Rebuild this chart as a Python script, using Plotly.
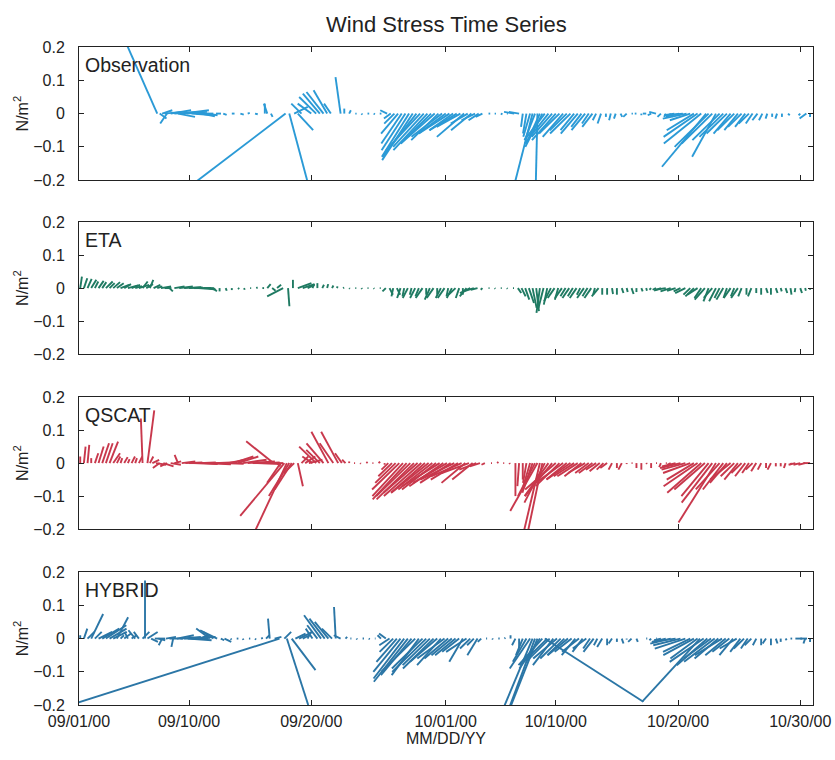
import datetime as dt
import plotly.graph_objects as go

# ---------------- data (t = days since 2000-09-01, u/v = wind stress N/m^2) -------------
obs_t = [6.4, 6.6, 6.8, 7.0, 7.2, 7.5, 7.8, 8.1, 8.4, 8.8,
         9.2, 9.6, 10.0, 10.5, 11.2, 11.8, 12.5, 13.2, 13.8, 14.4,
         15.2, 15.4, 15.7, 16.9, 17.2, 17.6, 17.9, 18.2, 19.0, 19.4,
         19.7, 20.0, 20.3, 20.6, 21.4, 21.7, 22.1, 22.6, 23.1, 23.6,
         24.1, 24.6, 25.2, 25.5, 25.8, 26.1, 26.4, 26.7, 27.0, 27.3,
         27.6, 27.9, 28.2, 28.5, 28.8, 29.1, 29.4, 29.7, 30.0, 30.3,
         30.6, 30.9, 31.2, 31.5, 31.8, 32.1, 32.4, 32.7, 33.0, 33.5,
         34.0, 34.5, 35.0, 35.6, 36.0, 36.3, 36.6, 36.9, 37.1, 37.3,
         37.5, 37.7, 37.9, 38.1, 38.4, 38.7, 39.0, 39.3, 39.6, 39.9,
         40.2, 40.5, 40.8, 41.1, 41.4, 41.7, 42.0, 42.3, 42.7, 43.1,
         43.5, 43.9, 44.3, 44.8, 45.2, 45.6, 46.0, 46.4, 46.8, 47.2,
         47.6, 48.0, 48.3, 48.7, 49.1, 49.4, 49.7, 50.0, 50.3, 50.6,
         50.9, 51.3, 51.5, 51.8, 52.1, 52.4, 52.7, 53.0, 53.3, 53.6,
         53.9, 54.2, 54.5, 54.8, 55.1, 55.5, 55.9, 56.3, 56.7, 57.1,
         57.5, 58.0, 58.5, 59.0, 59.5, 59.8]
obs_u = [-0.095, 0.02, 0.03, 0.05, -0.02, 0.06, 0.07, 0.05, 0.08, 0.06,
         0.07, 0.05, 0.04, 0.03, 0.015, 0.01, 0.008, 0.01, 0.006, 0.008,
         0.0, -0.01, 0.005, -0.27, 0.055, 0.04, 0.045, -0.03, -0.04, -0.05,
         -0.05, -0.05, -0.04, -0.02, -0.015, 0.0, 0.005, 0.004, 0.003, 0.005,
         0.004, 0.005, -0.02, -0.02, -0.03, -0.05, -0.06, -0.07, -0.08, -0.09,
         -0.10, -0.10, -0.09, -0.10, -0.09, -0.10, -0.08, -0.09, -0.08, -0.09,
         -0.07, -0.08, -0.07, -0.08, -0.05, -0.06, -0.04, -0.03, -0.02, 0.005,
         0.004, 0.005, 0.003, -0.03, -0.03, -0.005, -0.01, -0.02, -0.055, -0.03,
         -0.005, -0.04, -0.05, -0.06, -0.07, -0.06, -0.07, -0.06, -0.06, -0.05,
         -0.06, -0.04, -0.05, -0.03, -0.04, -0.02, -0.03, -0.01, -0.01, 0.0,
         -0.005, -0.005, 0.005, -0.01, 0.004, -0.005, 0.0, -0.01, -0.01, -0.02,
         -0.01, -0.005, 0.01, -0.03, -0.04, -0.05, -0.07, -0.06, -0.08, -0.10,
         -0.11, -0.13, -0.10, -0.09, -0.07, -0.08, -0.07, -0.06, -0.05, -0.05,
         -0.04, -0.04, -0.03, -0.03, -0.02, -0.015, -0.01, -0.005, 0.0, -0.005,
         0.0, 0.005, 0.0, -0.005, -0.02, 0.0]
obs_v = [0.22, -0.015, 0.01, 0.005, -0.03, 0.01, 0.005, -0.01, 0.01, 0.005,
         -0.005, 0.0, -0.008, -0.005, 0.0, -0.004, 0.0, -0.003, 0.002, -0.002,
         0.03, 0.03, -0.01, -0.21, -0.21, 0.02, -0.05, 0.03, 0.03, 0.05,
         0.06, 0.065, 0.07, 0.03, 0.11, 0.015, 0.01, 0.0, -0.003, 0.0,
         -0.002, 0.0, 0.01, -0.015, -0.03, -0.06, -0.09, -0.11, -0.13, -0.14,
         -0.13, -0.11, -0.10, -0.11, -0.09, -0.09, -0.08, -0.07, -0.06, -0.06,
         -0.05, -0.05, -0.04, -0.07, -0.03, -0.05, -0.02, -0.02, -0.01, 0.0,
         0.0, -0.002, 0.0, 0.005, 0.005, -0.04, -0.06, -0.07, -0.22, -0.08,
         -0.22, -0.09, -0.10, -0.08, -0.09, -0.07, -0.08, -0.06, -0.07, -0.05,
         -0.06, -0.05, -0.06, -0.04, -0.05, -0.03, -0.04, -0.02, -0.03, -0.01,
         -0.02, -0.015, -0.01, -0.01, 0.0, 0.0, -0.005, 0.0, -0.005, 0.005,
         -0.01, -0.01, -0.01, -0.005, -0.01, -0.005, -0.015, -0.02, -0.05, -0.07,
         -0.09, -0.16, -0.10, -0.09, -0.13, -0.08, -0.07, -0.06, -0.06, -0.05,
         -0.05, -0.04, -0.04, -0.03, -0.03, -0.02, -0.02, -0.015, -0.01, -0.015,
         -0.01, -0.005, 0.0, -0.005, -0.015, -0.01]

eta_t = [0.1, 0.4, 0.7, 1.0, 1.3, 1.6, 1.9, 2.2, 2.5, 2.8,
         3.1, 3.4, 3.7, 4.0, 4.3, 4.6, 4.9, 5.2, 5.5, 5.8,
         6.1, 6.4, 6.7, 7.0, 7.4, 7.8, 8.2, 8.6, 9.0, 9.4,
         9.8, 10.2, 10.6, 11.0, 11.5, 12.0, 12.5, 13.0, 13.5, 14.0,
         14.5, 15.0, 15.4, 15.8, 16.2, 16.7, 17.1, 17.5, 17.9, 18.3,
         18.7, 19.1, 19.5, 19.9, 20.3, 20.7, 21.1, 21.6, 22.1, 22.6,
         23.1, 23.6, 24.1, 24.6, 25.1, 25.4, 25.7, 26.0, 26.3, 26.6,
         26.9, 27.2, 27.5, 27.8, 28.1, 28.4, 28.7, 29.0, 29.3, 29.6,
         29.9, 30.2, 30.5, 30.8, 31.1, 31.4, 31.7, 32.0, 32.3, 32.6,
         33.0, 33.5, 34.0, 34.5, 35.0, 35.5, 35.9, 36.2, 36.5, 36.8,
         37.1, 37.4, 37.7, 38.0, 38.3, 38.6, 38.9, 39.2, 39.5, 39.8,
         40.1, 40.4, 40.7, 41.0, 41.3, 41.6, 41.9, 42.2, 42.5, 42.8,
         43.2, 43.6, 44.0, 44.4, 44.8, 45.2, 45.6, 46.0, 46.4, 46.8,
         47.2, 47.6, 48.0, 48.4, 48.8, 49.2, 49.6, 50.0, 50.3, 50.6,
         50.9, 51.2, 51.5, 51.8, 52.1, 52.4, 52.7, 53.0, 53.3, 53.6,
         53.9, 54.2, 54.6, 55.0, 55.4, 55.8, 56.2, 56.6, 57.0, 57.4,
         57.8, 58.2, 58.6, 59.0, 59.4, 59.8]
eta_u = [0.005, 0.01, 0.012, 0.015, 0.01, 0.015, 0.012, 0.02, 0.015, 0.02,
         0.02, 0.025, 0.02, 0.03, 0.025, 0.02, 0.03, 0.015, 0.02, 0.01,
         0.02, 0.015, 0.03, 0.02, 0.01, 0.03, 0.04, 0.05, 0.04, 0.05,
         0.04, 0.03, 0.02, 0.01, 0.0, 0.003, 0.0, 0.004, 0.002, 0.003,
         0.004, 0.005, 0.01, 0.01, 0.012, -0.047, 0.004, 0.0, 0.04, 0.035,
         0.02, 0.005, 0.0, 0.005, 0.003, 0.004, 0.002, 0.003, 0.002, 0.003,
         0.002, 0.003, 0.002, 0.003, -0.01, 0.01, -0.005, 0.01, -0.01, -0.005,
         -0.015, -0.005, -0.015, -0.01, -0.02, 0.0, -0.015, -0.02, 0.0, -0.015,
         -0.02, -0.005, -0.015, -0.02, -0.01, 0.0, -0.02, -0.03, -0.03, -0.02,
         -0.005, 0.003, 0.002, 0.003, 0.002, 0.003, 0.01, 0.012, 0.012, 0.015,
         0.012, 0.008, -0.01, -0.015, -0.01, -0.02, -0.02, -0.01, -0.02, -0.015,
         -0.02, -0.015, -0.02, -0.01, -0.02, -0.015, -0.02, -0.005, -0.02, 0.0,
         0.0, 0.003, 0.0, 0.005, 0.003, 0.006, 0.0, 0.004, 0.002, -0.005,
         -0.01, -0.02, -0.03, -0.03, -0.025, -0.02, -0.03, -0.02, -0.025, -0.03,
         -0.02, -0.03, -0.015, -0.025, -0.02, -0.015, -0.02, -0.01, -0.02, -0.01,
         -0.02, -0.01, 0.0, -0.01, 0.0, 0.0, 0.005, 0.0, 0.005, 0.003,
         0.005, 0.003, -0.002, 0.005, 0.002, 0.0]
eta_v = [0.035, 0.03, 0.028, 0.025, 0.02, 0.022, 0.018, 0.02, 0.015, 0.018,
         0.015, 0.01, 0.012, 0.008, 0.01, 0.006, 0.01, 0.02, 0.012, 0.025,
         0.01, 0.005, 0.005, 0.0, -0.01, 0.005, 0.005, 0.003, 0.002, 0.0,
         -0.003, 0.0, -0.005, -0.01, -0.01, -0.008, -0.006, -0.003, -0.005, 0.0,
         0.002, 0.0, 0.012, -0.008, 0.01, -0.025, -0.055, 0.025, 0.015, 0.012,
         0.01, 0.012, 0.015, 0.01, 0.012, 0.008, 0.005, 0.002, -0.002, 0.0,
         -0.003, 0.0, -0.002, 0.0, -0.01, -0.02, -0.025, -0.02, -0.03, -0.025,
         -0.03, -0.02, -0.03, -0.025, -0.03, -0.02, -0.035, -0.03, -0.02, -0.03,
         -0.03, -0.025, -0.03, -0.02, -0.03, -0.02, -0.025, -0.015, -0.01, -0.005,
         -0.005, 0.0, -0.002, 0.0, -0.002, 0.0, -0.015, -0.025, -0.035, -0.045,
         -0.06, -0.07, -0.075, -0.06, -0.05, -0.04, -0.03, -0.035, -0.03, -0.025,
         -0.03, -0.025, -0.03, -0.02, -0.03, -0.025, -0.03, -0.02, -0.025, -0.02,
         -0.02, -0.018, -0.02, -0.015, -0.012, -0.018, -0.012, -0.01, -0.008, -0.005,
         -0.005, -0.008, -0.005, -0.01, -0.008, -0.01, -0.015, -0.02, -0.025, -0.02,
         -0.03, -0.035, -0.04, -0.03, -0.04, -0.03, -0.035, -0.03, -0.03, -0.025,
         -0.03, -0.025, -0.02, -0.025, -0.015, -0.02, -0.015, -0.02, -0.015, -0.01,
         -0.015, -0.02, -0.012, -0.015, -0.008, -0.005]

qsc_t = [0.1, 0.4, 0.7, 1.0, 1.3, 1.6, 1.9, 2.2, 2.5, 2.8,
         3.1, 3.4, 3.7, 4.0, 4.3, 4.6, 4.9, 5.2, 5.6, 5.8,
         6.0, 6.3, 6.6, 6.9, 7.2, 7.5, 7.8, 8.1, 8.4, 8.7,
         9.0, 9.4, 9.8, 10.2, 10.6, 11.0, 11.4, 11.8, 12.2, 12.6,
         13.0, 13.4, 13.8, 14.2, 14.6, 15.0, 15.3, 15.6, 15.9, 16.2,
         16.5, 16.8, 17.0, 17.2, 17.4, 17.6, 17.9, 18.2, 18.5, 18.8,
         19.1, 19.4, 19.7, 20.0, 20.4, 20.8, 21.2, 21.5, 21.8, 22.1,
         22.5, 23.0, 23.5, 24.0, 24.5, 25.0, 25.3, 25.6, 25.9, 26.2,
         26.5, 26.8, 27.1, 27.4, 27.7, 28.0, 28.3, 28.6, 28.9, 29.2,
         29.5, 29.8, 30.1, 30.4, 30.7, 31.0, 31.3, 31.6, 31.9, 32.2,
         32.5, 32.8, 33.2, 33.7, 34.2, 34.7, 35.2, 35.7, 36.0, 36.3,
         36.6, 36.9, 37.1, 37.3, 37.5, 37.7, 37.9, 38.1, 38.4, 38.7,
         39.0, 39.3, 39.6, 39.9, 40.2, 40.5, 40.8, 41.1, 41.4, 41.7,
         42.0, 42.3, 42.6, 42.9, 43.2, 43.6, 44.0, 44.4, 44.8, 45.2,
         45.6, 46.0, 46.4, 46.8, 47.2, 47.6, 48.0, 48.4, 48.8, 49.2,
         49.6, 50.0, 50.3, 50.6, 50.9, 51.2, 51.5, 51.8, 52.1, 52.4,
         52.7, 53.0, 53.3, 53.6, 53.9, 54.2, 54.5, 54.8, 55.1, 55.4,
         55.8, 56.2, 56.6, 57.0, 57.4, 57.8, 58.2, 58.6, 59.0, 59.4,
         59.8]
qsc_u = [0.0, 0.005, 0.005, 0.0, 0.01, 0.015, 0.02, 0.02, 0.025, 0.02,
         0.01, 0.005, 0.01, 0.005, 0.01, 0.005, 0.01, -0.005, 0.02, 0.01,
         0.02, 0.03, -0.02, 0.03, -0.02, 0.03, 0.02, -0.01, 0.04, 0.05,
         0.06, 0.07, 0.05, 0.08, 0.06, 0.07, 0.05, 0.06, 0.05, 0.06,
         0.06, 0.07, 0.08, 0.09, 0.07, 0.05, 0.04, 0.02, -0.08, 0.01,
         -0.04, -0.13, -0.10, -0.06, -0.05, -0.03, 0.015, 0.02, 0.03, 0.04,
         -0.03, -0.05, -0.04, -0.05, -0.05, -0.04, -0.05, -0.02, -0.01, 0.0,
         0.003, 0.002, 0.004, 0.003, 0.005, 0.0, -0.02, -0.04, -0.06, -0.08,
         -0.09, -0.10, -0.10, -0.11, -0.10, -0.11, -0.10, -0.11, -0.10, -0.10,
         -0.11, -0.10, -0.10, -0.09, -0.10, -0.08, -0.09, -0.07, -0.08, -0.06,
         -0.05, -0.03, -0.01, 0.003, 0.004, 0.003, 0.002, 0.0, -0.005, 0.0,
         -0.01, -0.02, -0.03, -0.05, -0.08, -0.05, -0.045, -0.06, -0.07, -0.08,
         -0.09, -0.07, -0.08, -0.06, -0.07, -0.06, -0.06, -0.05, -0.05, -0.04,
         -0.04, -0.03, -0.03, -0.02, -0.02, -0.01, 0.0, -0.01, 0.0, 0.003,
         0.0, 0.0, 0.002, 0.0, 0.003, -0.005, 0.003, -0.01, -0.04, -0.06,
         -0.07, -0.08, -0.08, -0.10, -0.10, -0.09, -0.08, -0.09, -0.11, -0.07,
         -0.06, -0.05, -0.06, -0.04, -0.04, -0.03, -0.03, -0.02, -0.02, -0.015,
         -0.01, 0.0, -0.01, 0.0, 0.0, -0.005, 0.003, -0.02, -0.02, -0.02,
         -0.02]
qsc_v = [0.02, 0.05, 0.055, 0.015, 0.03, 0.05, 0.06, 0.06, 0.065, 0.03,
         0.02, 0.015, 0.018, 0.012, 0.02, 0.015, 0.02, 0.135, 0.16, 0.02,
         0.01, -0.005, -0.015, -0.01, -0.01, -0.005, 0.005, 0.025, 0.005, 0.002,
         0.0, -0.003, 0.002, -0.004, 0.0, 0.003, 0.0, -0.002, 0.01, 0.02,
         0.02, 0.01, 0.005, 0.0, -0.003, 0.0, 0.002, 0.0, 0.066, -0.01,
         -0.06, -0.16, -0.22, -0.10, -0.08, -0.03, -0.07, 0.02, 0.02, 0.01,
         0.02, 0.05, 0.04, 0.06, 0.095, 0.06, 0.095, 0.03, 0.01, 0.005,
         0.0, -0.002, 0.003, 0.0, 0.004, -0.005, -0.02, -0.04, -0.06, -0.08,
         -0.10, -0.11, -0.10, -0.11, -0.09, -0.10, -0.09, -0.09, -0.08, -0.08,
         -0.07, -0.07, -0.06, -0.06, -0.05, -0.05, -0.04, -0.06, -0.03, -0.05,
         -0.02, -0.01, -0.005, 0.0, 0.003, 0.0, -0.003, -0.1, -0.07, -0.05,
         -0.06, -0.07, -0.09, -0.1, -0.145, -0.22, -0.22, -0.12, -0.1, -0.1,
         -0.08, -0.07, -0.06, -0.05, -0.05, -0.04, -0.04, -0.04, -0.03, -0.03,
         -0.03, -0.02, -0.025, -0.02, -0.015, -0.02, -0.015, -0.02, -0.003, 0.0,
         -0.015, -0.02, -0.003, -0.015, 0.0, -0.012, 0.0, -0.005, -0.01, -0.015,
         -0.02, -0.03, -0.05, -0.07, -0.09, -0.08, -0.10, -0.12, -0.18, -0.08,
         -0.08, -0.06, -0.05, -0.04, -0.05, -0.03, -0.04, -0.03, -0.02, -0.025,
         -0.02, -0.015, -0.02, -0.01, -0.01, -0.015, -0.005, -0.005, -0.005, -0.005,
         0.0]

hyb_t = [0.1, 0.4, 0.7, 1.0, 1.3, 1.6, 1.9, 2.2, 2.5, 2.8,
         3.1, 3.4, 3.7, 4.0, 4.3, 4.6, 4.9, 5.2, 5.4, 5.6,
         5.9, 6.2, 6.5, 6.8, 7.1, 7.4, 7.7, 8.0, 8.3, 8.6,
         8.9, 9.2, 9.5, 9.8, 10.1, 10.4, 10.7, 11.0, 11.3, 11.6,
         11.9, 12.4, 12.9, 13.4, 13.9, 14.4, 14.9, 15.3, 15.6, 16.0,
         16.4, 16.8, 17.0, 17.4, 17.7, 18.0, 18.3, 18.7, 19.1, 19.5,
         19.8, 20.1, 20.4, 20.7, 21.0, 21.4, 21.8, 22.2, 22.7, 23.2,
         23.7, 24.2, 24.7, 25.1, 25.4, 25.7, 26.0, 26.3, 26.6, 26.9,
         27.2, 27.5, 27.8, 28.1, 28.4, 28.7, 29.0, 29.3, 29.6, 29.9,
         30.2, 30.5, 30.8, 31.1, 31.4, 31.7, 32.0, 32.3, 32.6, 32.9,
         33.3, 33.8, 34.3, 34.8, 35.3, 35.7, 36.0, 36.3, 36.6, 36.9,
         37.1, 37.3, 37.5, 37.7, 37.9, 38.1, 38.3, 38.5, 38.8, 39.1,
         39.4, 39.7, 40.0, 40.3, 40.6, 40.9, 41.2, 41.5, 41.8, 42.1,
         42.4, 42.8, 43.2, 43.6, 44.0, 44.4, 44.8, 45.2, 45.6, 46.0,
         46.4, 46.8, 47.2, 47.6, 48.0, 48.4, 48.8, 49.2, 49.6, 50.0,
         50.3, 50.6, 50.8, 51.1, 51.4, 51.7, 52.0, 52.3, 52.6, 52.9,
         53.2, 53.5, 53.8, 54.1, 54.4, 54.7, 55.0, 55.4, 55.8, 56.2,
         56.6, 57.0, 57.4, 57.8, 58.2, 58.6, 59.0, 59.4, 59.8]
hyb_u = [0.0, 0.01, 0.02, 0.035, 0.02, 0.04, 0.05, 0.06, 0.05, 0.04,
         0.033, 0.01, 0.02, -0.01, 0.015, -0.02, -0.015, 0.02, 0.0, 0.03,
         0.02, 0.03, 0.02, -0.01, 0.03, 0.04, -0.005, 0.05, 0.06, 0.06,
         0.07, 0.05, 0.06, 0.03, 0.02, 0.0, -0.04, -0.03, -0.05, 0.01,
         0.02, 0.003, 0.005, 0.002, 0.004, 0.003, 0.005, 0.01, -0.005, 0.02,
         -0.6, 0.02, 0.063, 0.07, 0.03, 0.04, 0.02, 0.01, -0.02, -0.03,
         -0.05, -0.045, -0.04, -0.03, -0.005, -0.02, 0.005, 0.003, 0.002, 0.004,
         0.003, 0.002, -0.01, -0.02, -0.03, -0.04, -0.06, -0.08, -0.09, -0.10,
         -0.09, -0.10, -0.08, -0.09, -0.10, -0.08, -0.09, -0.08, -0.07, -0.08,
         -0.07, -0.06, -0.06, -0.05, -0.04, -0.06, -0.03, -0.02, -0.03, -0.01,
         0.003, 0.002, 0.004, 0.003, 0.0, -0.01, 0.0, -0.02, -0.04, -0.06,
         -0.09, -0.08, -0.085, -0.06, -0.07, 0.29, -0.08, -0.07, -0.06, -0.07,
         -0.06, -0.05, -0.06, -0.05, -0.04, -0.05, -0.03, -0.04, -0.02, -0.03,
         -0.01, -0.015, 0.0, -0.01, 0.0, 0.005, 0.0, -0.01, 0.004, 0.0,
         0.003, -0.005, 0.002, -0.02, -0.04, -0.06, -0.07, -0.08, -0.09, -0.08,
         -0.09, -0.08, -0.17, -0.10, -0.09, -0.08, -0.09, -0.07, -0.08, -0.06,
         -0.05, -0.04, -0.05, -0.03, -0.03, -0.02, -0.02, -0.01, 0.0, -0.01,
         0.0, 0.005, 0.0, 0.003, 0.005, 0.02, 0.02, -0.005, 0.0]
hyb_v = [0.01, 0.03, 0.02, 0.074, 0.02, 0.02, 0.03, 0.04, 0.03, 0.02,
         0.064, 0.01, 0.015, 0.02, 0.01, 0.025, 0.02, 0.02, 0.175, 0.02,
         -0.01, 0.0, -0.005, -0.02, 0.005, 0.0, -0.025, 0.01, 0.005, 0.0,
         -0.005, 0.0, 0.005, 0.01, 0.005, 0.0, 0.03, 0.02, 0.025, -0.005,
         -0.01, -0.003, 0.0, -0.004, 0.0, -0.003, 0.002, 0.01, 0.06, 0.005,
         -0.195, 0.02, -0.2, -0.095, 0.015, 0.02, 0.01, 0.02, 0.03, 0.04,
         0.07, 0.06, 0.05, 0.03, 0.095, 0.01, 0.005, 0.0, -0.003, 0.0,
         -0.002, 0.0, 0.01, 0.015, -0.02, -0.04, -0.07, -0.1, -0.12, -0.13,
         -0.11, -0.10, -0.11, -0.09, -0.10, -0.08, -0.09, -0.07, -0.08, -0.06,
         -0.06, -0.05, -0.05, -0.04, -0.07, -0.04, -0.03, -0.02, -0.05, -0.01,
         0.0, -0.003, 0.0, 0.002, 0.01, -0.02, -0.03, -0.05, -0.07, -0.09,
         -0.22, -0.22, -0.22, -0.09, -0.08, -0.19, -0.08, -0.07, -0.08, -0.06,
         -0.06, -0.05, -0.05, -0.04, -0.05, -0.04, -0.04, -0.03, -0.03, -0.04,
         -0.02, -0.025, -0.02, -0.015, -0.01, -0.015, -0.003, -0.01, -0.01, 0.0,
         0.0, -0.005, 0.0, -0.005, -0.01, -0.015, -0.01, -0.02, -0.03, -0.04,
         -0.05, -0.06, -0.19, -0.07, -0.08, -0.06, -0.07, -0.06, -0.05, -0.05,
         -0.04, -0.05, -0.03, -0.04, -0.03, -0.03, -0.02, -0.02, -0.02, -0.015,
         -0.02, -0.015, -0.01, -0.005, 0.0, 0.0, 0.0, -0.015, -0.01]

panel_names = ["Observation", "ETA", "QSCAT", "HYBRID"]
tick_dates = ["2000-09-01", "2000-09-10", "2000-09-20", "2000-10-01",
              "2000-10-10", "2000-10-20", "2000-10-30"]
y_ticks = [-0.2, -0.1, 0, 0.1, 0.2]

# ---------------- styling ----------------
START = dt.datetime(2000, 9, 1)
STICK_SCALE = 27.8  # days of x-displacement per N/m^2 of u (equal visual scaling)
colors = ["#2b9ad6", "#1f7a62", "#c8384c", "#2b76a6"]
FONT = "Liberation Sans, Arial, Helvetica, sans-serif"
domains = [[0.76842, 0.94737], [0.53421, 0.71184], [0.29868, 0.47632], [0.06184, 0.24079]]


def stick_xy(t, u, v):
    assert len(t) == len(u) == len(v)
    xs, ys = [], []
    for ti, ui, vi in zip(t, u, v):
        xs += [START + dt.timedelta(days=ti), START + dt.timedelta(days=ti + ui * STICK_SCALE), None]
        ys += [0.0, vi, None]
    return xs, ys


series = [(obs_t, obs_u, obs_v), (eta_t, eta_u, eta_v), (qsc_t, qsc_u, qsc_v), (hyb_t, hyb_u, hyb_v)]

fig = go.Figure()
layout = dict(
    width=835, height=760,
    margin=dict(l=79, r=22, t=0, b=0),
    paper_bgcolor="white", plot_bgcolor="white",
    showlegend=False,
    font=dict(family=FONT, size=16, color="#222"),
    annotations=[],
)

for i, (name, (t, u, v), col) in enumerate(zip(panel_names, series, colors)):
    k = "" if i == 0 else str(i + 1)
    xs, ys = stick_xy(t, u, v)
    fig.add_trace(go.Scatter(x=xs, y=ys, mode="lines", xaxis="x" + k, yaxis="y" + k,
                             line=dict(color=col, width=1.9), connectgaps=False,
                             hoverinfo="skip", name=name))
    layout["xaxis" + k] = dict(
        domain=[0, 1], anchor="y" + k,
        type="date", range=["2000-09-01", "2000-10-31 01:00"],
        tickvals=tick_dates, tickformat="%m/%d/%y",
        ticks="inside", ticklen=5, tickcolor="#222",
        showline=True, linecolor="#222", linewidth=1, mirror="ticks",
        showgrid=False, zeroline=False,
        showticklabels=(i == 3), ticklabelstandoff=2,
        tickfont=dict(size=16),
    )
    layout["yaxis" + k] = dict(
        domain=domains[i], anchor="x" + k,
        range=[-0.2, 0.2], tickvals=y_ticks,
        ticktext=["\u22120.2", "\u22120.1", "0", "0.1", "0.2"],
        ticks="inside", ticklen=5, tickcolor="#222",
        showline=True, linecolor="#222", linewidth=1, mirror="ticks",
        showgrid=False, zeroline=False, ticklabelstandoff=10,
        title=dict(text="N/m<sup>2</sup>", standoff=0, font=dict(size=16)),
        tickfont=dict(size=16),
    )
    layout["annotations"].append(dict(
        text=name, xref="x%s domain" % k, yref="y%s domain" % k,
        x=0.006, y=0.868, xanchor="left", yanchor="middle", showarrow=False,
        font=dict(size=19.5, color="#222"),
    ))

layout["xaxis4"]["title"] = dict(text="MM/DD/YY", standoff=2, font=dict(size=16))
layout["annotations"].append(dict(
    text="Wind Stress Time Series", xref="paper", yref="paper",
    x=0.5, y=1 - 17 / 760, xanchor="center", yanchor="middle", showarrow=False,
    font=dict(size=22, color="#222"),
))

fig.update_layout(**layout)
fig.write_html("out.html")
